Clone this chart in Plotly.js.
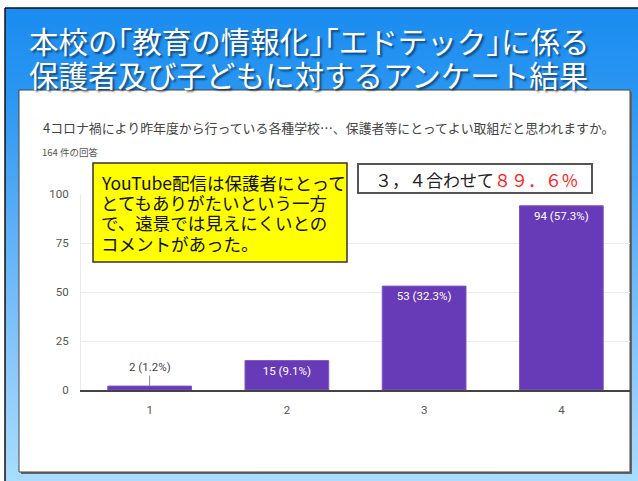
<!DOCTYPE html>
<html>
<head>
<meta charset="utf-8">
<script src="https://cdn.plot.ly/plotly-3.0.1.min.js"></script>
<style>
  html, body { margin: 0; padding: 0; background: #ffffff; }
  #wrap { position: relative; width: 638px; height: 481px; overflow: hidden; }
  #bg { position: absolute; left: 5px; top: 8px; width: 633px; height: 473px;
        background: linear-gradient(to bottom, #1a8cf0 0%, #2a96f2 18%, #5aaef6 45%, #8ac8fb 75%, #a9dcff 100%); }
  #chart { position: absolute; left: 0; top: 0; width: 638px; height: 481px; }
</style>
</head>
<body>
<div id="wrap">
  <div id="bg"></div>
  <div id="chart"></div>
</div>
<script>
// ---- data ----
const categories = ['1', '2', '3', '4'];
const counts = [2, 15, 53, 94];
const totalResponses = 164;
const yTicks = [0, 25, 50, 75, 100];
const slideTitleLines = ['本校の「教育の情報化」「エドテック」に係る', '保護者及び子どもに対するアンケート結果'];
const questionText = '4コロナ禍により昨年度から行っている各種学校…、保護者等にとってよい取組だと思われますか。';
const responseText = totalResponses + ' 件の回答';
const noteLines = ['YouTube配信は保護者にとって', 'とてもありがたいという一方', 'で、遠景では見えにくいとの', 'コメントがあった。'];
const summaryBlack = '３，４合わせて';
const summaryRed = '８９．６%';

// ---- layout geometry ----
const W = 638, H = 481;
const M = {l: 81, r: 8, t: 194, b: 91};
const PW = W - M.l - M.r, PH = H - M.t - M.b;
const px = x => (x - M.l) / PW;
const py = y => (H - M.b - y) / PH;

const labels = counts.map(v => v + ' (' + (v / totalResponses * 100).toFixed(1) + '%)');
const textpos = counts.map(v => v < 5 ? 'none' : 'inside');

const trace = {
  type: 'bar',
  x: categories,
  y: counts,
  text: labels,
  textposition: textpos,
  insidetextanchor: 'end',
  textfont: {family: 'Roboto, Arial, sans-serif', size: 11.5, color: '#ffffff'},
  marker: {color: '#673ab7', line: {color: '#7e57c2', width: 1}},
  hoverinfo: 'none',
  cliponaxis: false
};

const shapes = [
  {type: 'line', xref: 'paper', yref: 'paper', x0: px(5), x1: px(5), y0: py(8), y1: py(481), line: {color: '#111', width: 1.5}, layer: 'below'},
  {type: 'line', xref: 'paper', yref: 'paper', x0: px(5), x1: px(638), y0: py(8), y1: py(8), line: {color: '#111', width: 1.5}, layer: 'below'},
  {type: 'rect', xref: 'paper', yref: 'paper', x0: px(21), x1: px(632), y0: py(92), y1: py(474), fillcolor: '#666', line: {width: 0}, layer: 'below'},
  {type: 'rect', xref: 'paper', yref: 'paper', x0: px(19), x1: px(630), y0: py(90), y1: py(472), fillcolor: '#ffffff', line: {color: '#444', width: 1}, layer: 'below'},
  {type: 'rect', xref: 'paper', yref: 'paper', x0: px(93), x1: px(347), y0: py(163), y1: py(262), fillcolor: '#ffff00', line: {color: '#333', width: 1.5}, layer: 'above'},
  {type: 'rect', xref: 'paper', yref: 'paper', x0: px(358), x1: px(592), y0: py(164), y1: py(193), fillcolor: '#ffffff', line: {color: '#555', width: 2}, layer: 'above'}
];

const jp = '"Noto Sans CJK JP", "Noto Sans", sans-serif';
const halfBr = s => s.replace(/([「」])/g, '<span style="font-feature-settings:\'halt\'">$1</span>');
const annotations = [];
const titleY = [40, 74];
slideTitleLines.forEach((t, i) => {
  annotations.push({xref: 'paper', yref: 'paper', x: px(27), y: py(titleY[i]), xanchor: 'left', yanchor: 'middle',
    text: halfBr(t), showarrow: false,
    font: {family: jp, size: 29.5, color: '#ffffff', shadow: '2px 2px 2px rgba(0,0,0,0.5)'}});
});
annotations.push({xref: 'paper', yref: 'paper', x: px(41), y: py(128), xanchor: 'left', yanchor: 'middle',
  text: questionText, showarrow: false, font: {family: jp, size: 12.9, color: '#444'}});
annotations.push({xref: 'paper', yref: 'paper', x: px(40), y: py(152), xanchor: 'left', yanchor: 'middle',
  text: responseText, showarrow: false, font: {family: jp, size: 9.5, color: '#555'}});
const noteY = [182, 202, 222, 243];
noteLines.forEach((t, i) => {
  annotations.push({xref: 'paper', yref: 'paper', x: px(99), y: py(noteY[i]), xanchor: 'left', yanchor: 'middle',
    text: t, showarrow: false, font: {family: jp, size: 17.5, color: '#111'}});
});
annotations.push({xref: 'paper', yref: 'paper', x: px(373), y: py(179), xanchor: 'left', yanchor: 'middle',
  text: summaryBlack + '<span style="color:#ff2020">' + summaryRed + '</span>', showarrow: false,
  font: {family: jp, size: 17, color: '#222'}});
counts.forEach((v, i) => {
  if (textpos[i] === 'none') {
    annotations.push({x: i, y: v, xref: 'x', yref: 'y', text: labels[i], showarrow: true,
      arrowhead: 0, arrowwidth: 1, arrowcolor: '#888', ax: 0, ay: -19,
      font: {family: 'Roboto, Arial, sans-serif', size: 11.5, color: '#444'}});
  }
});

const layout = {
  width: W, height: H,
  margin: M,
  paper_bgcolor: 'rgba(0,0,0,0)',
  plot_bgcolor: 'rgba(0,0,0,0)',
  showlegend: false,
  bargap: 0.39,
  xaxis: {type: 'category', showgrid: false, showline: true, linecolor: '#444', linewidth: 1.5,
    ticks: '', ticklabelstandoff: 9, tickfont: {family: 'Roboto, Arial, sans-serif', size: 11.5, color: '#555'}},
  yaxis: {range: [0, 100], tickvals: yTicks, showgrid: true, gridcolor: '#ececec', gridwidth: 1,
    showline: true, linecolor: '#ececec', zeroline: false, ticks: '', ticklabelstandoff: 9,
    tickfont: {family: 'Roboto, Arial, sans-serif', size: 11.5, color: '#555'}},
  shapes: shapes,
  annotations: annotations
};

Plotly.newPlot('chart', [trace], layout, {staticPlot: true, displayModeBar: false});
</script>
</body>
</html>
